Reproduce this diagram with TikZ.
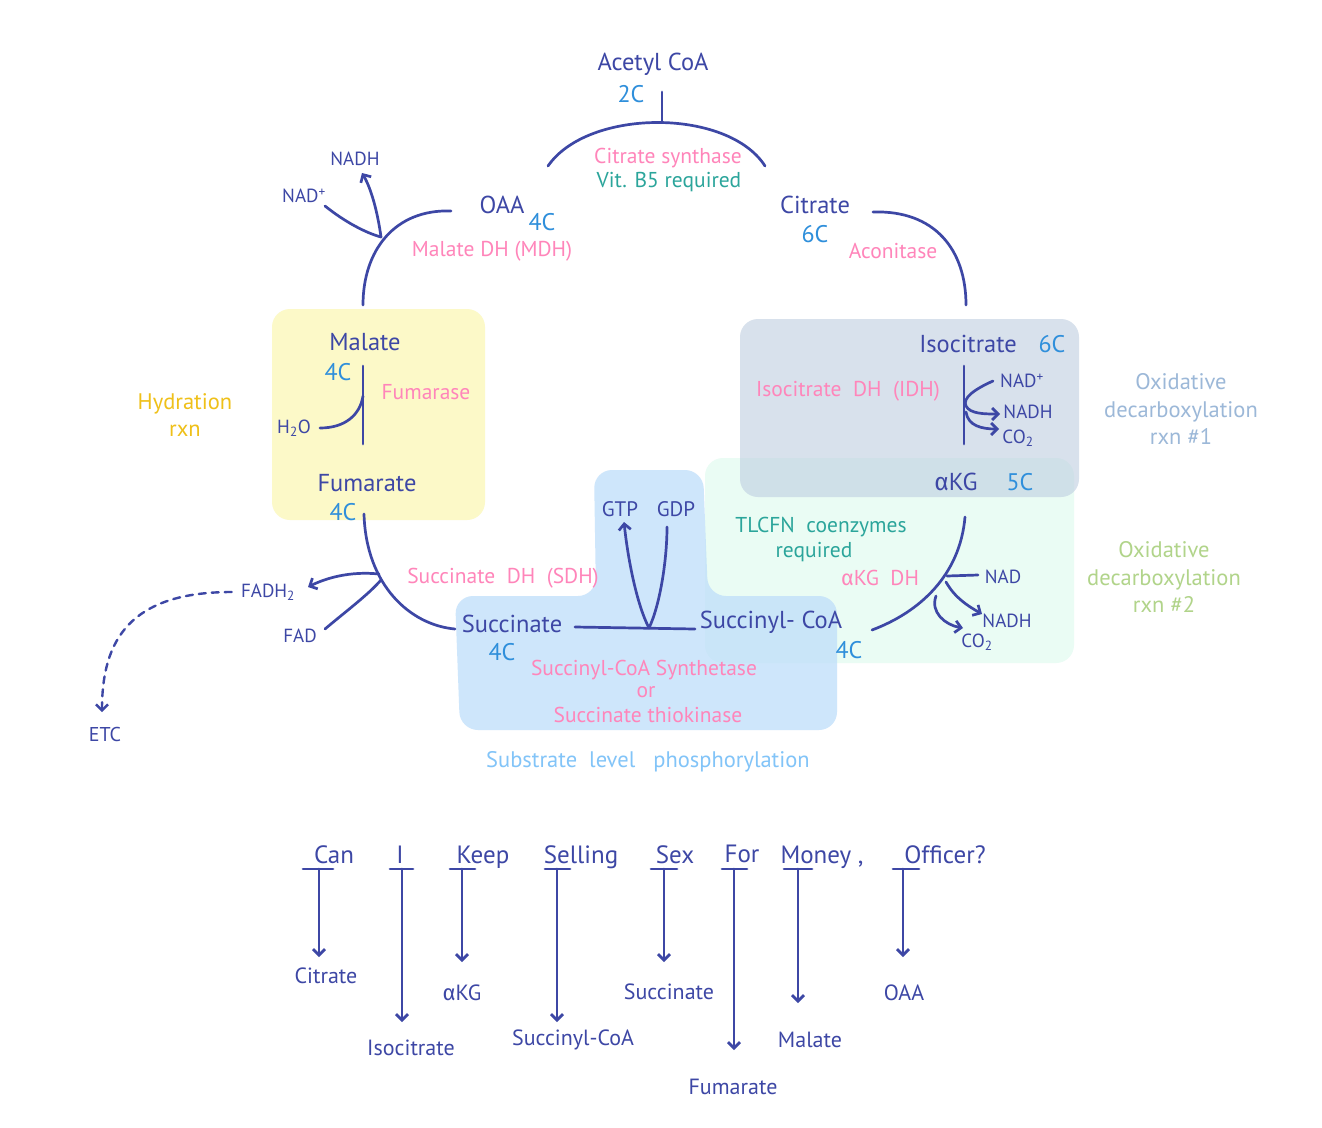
\documentclass[tikz,border=0pt]{standalone}
\usepackage{fontspec}
\setmainfont{PT Sans}
\newfontfamily\gk{Fira Sans}
\usetikzlibrary{arrows.meta}
\definecolor{dk}{RGB}{61,71,165}
\definecolor{cb}{RGB}{47,143,219}
\definecolor{pk}{RGB}{255,133,186}
\definecolor{tl}{RGB}{43,165,155}
\definecolor{yt}{RGB}{239,192,25}
\definecolor{gb}{RGB}{156,184,216}
\definecolor{gn}{RGB}{177,212,138}
\definecolor{lb}{RGB}{130,196,248}
\definecolor{yfill}{RGB}{252,249,200}
\definecolor{mfill}{RGB}{234,252,244}
\definecolor{ifill}{RGB}{190,206,224}
\definecolor{bfill}{RGB}{190,222,250}
\tikzset{
  lbl/.style={text=dk, font=\fontsize{24.5}{26}\selectfont, inner sep=0pt},
  sm/.style={text=dk, font=\fontsize{19}{21}\selectfont, inner sep=0pt},
  cc/.style={text=cb, font=\fontsize{24}{26}\selectfont, inner sep=0pt},
  enz/.style={text=pk, font=\fontsize{21.5}{23}\selectfont, inner sep=0pt},
  req/.style={text=tl, font=\fontsize{21.5}{23}\selectfont, inner sep=0pt},
  note/.style={font=\fontsize{22.5}{27.5}\selectfont, inner sep=0pt, align=center},
  mword/.style={text=dk, font=\fontsize{25}{27}\selectfont, inner sep=0pt},
  mtgt/.style={text=dk, font=\fontsize{22}{24}\selectfont, inner sep=0pt},
  arr/.style={-{Straight Barb[length=6pt,width=12pt]}},
  box/.style={rounded corners=18pt, draw=none},
}
\begin{document}
\begin{tikzpicture}[x=1pt,y=-1pt,line width=2.7pt,color=dk,line cap=round]
\useasboundingbox (0,0) rectangle (1322,1127);
\fill[white] (0,0) rectangle (1322,1127);

% ---------- background boxes ----------
\fill[box,yfill] (272,309) rectangle (485,520);
\fill[box,mfill] (705,458) rectangle (1074,663);
\fill[box,ifill,opacity=0.6] (740,319) rectangle (1079,497);
\fill[rounded corners=18pt,bfill,opacity=0.75]
  (594,470) -- (703,470) -- (708,596) -- (837,596) -- (837,730)
  -- (460,730) -- (455,596) -- (596,596) -- cycle;

% ---------- texts ----------
\node[lbl] (acoa) at (653,64) {Acetyl CoA};
\node[cc] (c2) at (631,94) {2C};
\node[enz] (cs) at (668,158) {Citrate synthase};
\node[req] (b5) at (669,182) {Vit. B5 required};

\node[lbl] (oaa) at (502,205) {OAA};
\node[cc] (c4a) at (542,222) {4C};
\node[enz] (mdh) at (492,251) {Malate\ DH\ (MDH)};
\node[sm] (nadp1) at (304,196) {NAD\textsuperscript{+}};
\node[sm] (nadh1) at (355,159) {NADH};

\node[lbl] (cit) at (815,205) {Citrate};
\node[cc] (c6a) at (815,234) {6C};
\node[enz] (aco) at (893,251) {Aconitase};

\node[lbl] (iso) at (968,344) {Isocitrate};
\node[cc] (c6b) at (1052,344) {6C};
\node[enz] (idh) at (848,391) {Isocitrate\ \ DH\ \ (IDH)};
\node[sm] (nadp2) at (1022,381) {NAD\textsuperscript{+}};
\node[sm] (nadh2) at (1028,412) {NADH};
\node[sm] (co2a) at (1018,438) {CO\textsubscript{2}};
\node[lbl] (akg) at (956,482) {{\gk α}KG};
\node[cc] (c5) at (1020,482) {5C};
\node[note,text=gb] (ox1) at (1181,409) {Oxidative\\decarboxylation\\rxn \#1};

\node[req] (tlc) at (821,527) {TLCFN\ \ coenzymes};
\node[req] (tlc2) at (814,552) {required};
\node[enz] (akgdh) at (880,578) {{\gk α}KG\ \ DH};
\node[sm] (nad3) at (1003,577) {NAD};
\node[sm] (nadh3) at (1007,621) {NADH};
\node[sm] (co2b) at (977,642) {CO\textsubscript{2}};
\node[cc] (c4b) at (849,650) {4C};
\node[note,text=gn] (ox2) at (1164,577) {Oxidative\\decarboxylation\\rxn \#2};

\node[sm,font=\fontsize{21}{23}\selectfont] (gtp) at (620,509) {GTP};
\node[sm,font=\fontsize{21}{23}\selectfont] (gdp) at (676,509) {GDP};
\node[lbl] (succ) at (512,624) {Succinate};
\node[cc] (c4c) at (502,652) {4C};
\node[lbl] (scoa) at (771,622) {Succinyl- CoA};
\node[enz] (scs) at (644,670) {Succinyl-CoA Synthetase};
\node[enz] (or) at (646,692) {or};
\node[enz] (stk) at (648,715) {Succinate thiokinase};
\node[note,text=lb] (slp) at (648,762) {Substrate\ \ level\ \ \ phosphorylation};
\node[enz] (sdh) at (503,578) {Succinate\ \ DH\ \ (SDH)};

\node[sm] (fadh) at (268,592) {FADH\textsubscript{2}};
\node[sm] (fad) at (300,636) {FAD};
\node[sm,font=\fontsize{20}{22}\selectfont] (etc) at (105,734) {ETC};

\node[lbl] (mal) at (365,342) {Malate};
\node[cc] (c4d) at (338,372) {4C};
\node[enz] (fum) at (426,392) {Fumarase};
\node[sm] (h2o) at (294,428) {H\textsubscript{2}O};
\node[lbl] (fumt) at (367,483) {Fumarate};
\node[cc] (c4e) at (343,512) {4C};
\node[note,text=yt] (hyd) at (185,415) {Hydration\\rxn};

% ---------- cycle connectors ----------
\coordinate (csL) at (548,166);
\coordinate (csR) at (765,166);
\coordinate (csTop) at (662,121);
\draw (662,92) -- (csTop);
\draw (csL) .. controls (588,108) and (728,108) .. (csR);

% OAA -> Malate
\coordinate (oaaW) at (451,211);
\coordinate (malN) at (363,305);
\coordinate (j1) at (381,237);
\draw (oaaW) .. controls (395,209) and (363,250) .. (malN);
\draw (325,206) .. controls (345,222) and (366,233) .. (j1);
\draw[arr] (j1) .. controls (378,215) and (372,190) .. (362,173);

% Citrate -> Isocitrate
\draw (873,212) .. controls (935,210) and (966,250) .. (966,305);

% Isocitrate -> aKG
\draw (964,366) -- (964,444);
\draw[arr] (993,381) .. controls (975,389) and (962,398) .. (966,406)
   .. controls (970,414) and (985,414) .. (1000,414);
\draw[arr] (966,412) .. controls (968,426) and (982,429) .. (999,429);

% aKG -> Succinyl-CoA
\draw (965,517) .. controls (960,575) and (920,612) .. (872,630);
\draw (978,575) -- (947,576);
\draw[arr] (946,582) .. controls (955,598) and (968,606) .. (982,614);
\draw[arr] (936,596) .. controls (930,612) and (945,625) .. (963,628);

% Succinyl-CoA -> Succinate
\coordinate (jv) at (649,628);
\draw (575,627) -- (695,629);
\draw[arr] (jv) .. controls (637,605) and (628,560) .. (624,522);
\draw (jv) .. controls (660,605) and (667,560) .. (667,527);

% Succinate -> Fumarate
\coordinate (j2) at (379,574);
\draw (455,629) .. controls (410,625) and (366,585) .. (364,514);
\draw[arr] (j2) .. controls (350,571) and (326,578) .. (308,587);
\draw (325,629) .. controls (345,612) and (368,595) .. (381,580);
\draw[arr,dashed,dash pattern=on 7pt off 6pt,line width=2.4pt]
  (fadh.west) ++(-8,0) .. controls (130,592) and (102,640) .. (102,712);

% Fumarate -> Malate
\draw (363,366) -- (363,444);
\draw (320,428) .. controls (345,428) and (360,415) .. (363,396);

% ---------- mnemonic ----------
\node[mword] (w1) at (334,855) {Can};
\node[mword] (w2) at (400,855) {I};
\node[mword] (w3) at (483,857) {Keep};
\node[mword] (w4) at (581,857) {Selling};
\node[mword] (w5) at (675,855) {Sex};
\node[mword] (w6) at (742,854) {For};
\node[mword] (w7) at (822,857) {Money ,};
\node[mword] (w8) at (945,855) {Officer?};

\node[mtgt] (t1) at (326,976) {Citrate};
\node[mtgt] (t2) at (411,1048) {Isocitrate};
\node[mtgt] (t3) at (462,993) {{\gk α}KG};
\node[mtgt] (t4) at (573,1040) {Succinyl-CoA};
\node[mtgt] (t5) at (669,992) {Succinate};
\node[mtgt] (t6) at (733,1087) {Fumarate};
\node[mtgt] (t7) at (810,1040) {Malate};
\node[mtgt] (t8) at (904,993) {OAA};

\foreach \n/\xa/\xb/\xc/\ye in {1/303/333/319/957, 2/390/413/402/1022, 3/450/475/462/962,
   4/545/570/557/1022, 5/651/677/664/962, 6/722/747/734/1050, 7/784/812/798/1003, 8/893/919/903/957}{
  \coordinate (bar\n) at (\xc,869);
  \coordinate (tip\n) at (\xc,\ye);
  \draw (\xa,869) -- (\xb,869);
  \draw[arr] (bar\n) -- (tip\n);
}
\end{tikzpicture}
\end{document}
